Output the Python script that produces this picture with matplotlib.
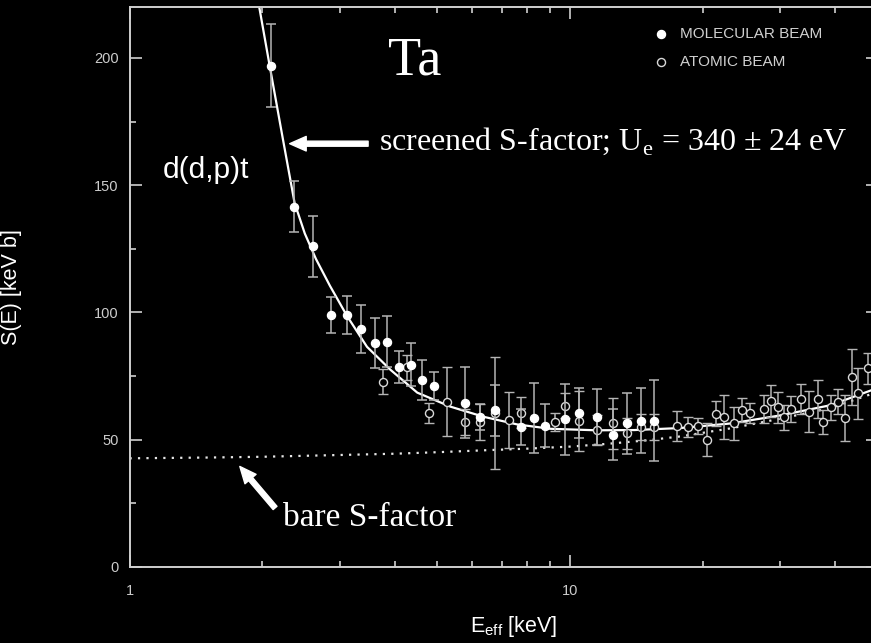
import matplotlib.pyplot as plt
import numpy as np
from matplotlib.ticker import LogLocator, MultipleLocator, NullFormatter

plt.rcParams['font.family'] = ['Liberation Sans', 'DejaVu Sans']
plt.rcParams['mathtext.fontset'] = 'custom'
plt.rcParams['mathtext.rm'] = 'Liberation Serif'
plt.rcParams['mathtext.sf'] = 'Liberation Sans'

# screened S-factor fit (solid) and bare S-factor (dotted)
e_fit = [1.95, 1.97, 2.08, 2.23, 2.37, 2.50, 2.65, 2.85, 3.12, 3.46, 3.91, 4.50,
         5.35, 6.37, 7.59, 9.03, 11.5, 14.0, 17.8, 23.2, 30.1, 39.1, 48.4, 52.0]
s_fit = [226, 220, 197, 168, 143, 131, 121, 110.5, 98.5, 86.5, 77.5, 68.5,
         63.0, 59.0, 56.0, 54.3, 53.7, 53.8, 54.6, 56.4, 59.6, 63.6, 69.5, 71.5]

e_bare = [1.0, 1.5, 2.0, 3.0, 4.0, 5.0, 6.5, 8.0, 10.0, 12.0, 15.0, 17.8,
          23.2, 30.1, 39.1, 48.4, 52.0]
s_bare = [42.7, 43.0, 43.3, 44.0, 44.5, 45.1, 45.9, 46.5, 47.3, 48.3, 49.8, 51.3,
          54.5, 58.3, 62.5, 68.0, 69.8]

# molecular beam (filled)
e_mol = [2.10, 2.36, 2.61, 2.86, 3.11, 3.36, 3.61, 3.85, 4.10, 4.36, 4.61, 4.90,
         5.76, 6.26, 6.77, 7.75, 8.28, 8.75, 9.73, 10.5, 11.5, 12.5, 13.5, 14.5, 15.5]
s_mol = [197, 141.5, 126, 99, 99, 93.5, 88, 88.5, 78.5, 79.5, 73.5, 71,
         64.5, 59, 61.5, 55, 58.5, 55.5, 58, 60.5, 59, 52, 56.5, 57.5, 57.5]
err_mol = [16.4, 10, 12, 7.2, 7.5, 9.3, 10, 10, 6.3, 8.5, 8, 5.5,
           14, 5, 10, 7, 13.7, 8.5, 14, 10, 11, 10, 12, 12.8, 16]

# atomic beam (open)
e_atom = [3.76, 4.27, 4.78, 5.26, 5.76, 6.26, 6.77, 7.26, 7.75, 9.24, 9.73, 10.5,
          11.5, 12.5, 13.5, 14.5, 15.5, 17.5, 18.5, 19.5, 20.5, 21.4, 22.4, 23.5,
          24.5, 25.6, 27.6, 28.6, 29.6, 30.6, 31.7, 33.4, 34.9, 36.5, 37.6, 39.1,
          40.5, 42.1, 43.6, 45.0, 47.4]
s_atom = [72.8, 78.4, 60.4, 65, 57, 57, 60.5, 57.7, 60.6, 57, 63.4, 57.2,
          53.8, 56.4, 52.5, 55, 55, 55.4, 55, 55.4, 50, 60.2, 59, 56.4,
          61.7, 60.4, 62, 65.3, 62.7, 58.8, 62, 66, 61, 66, 57, 62.7,
          65, 58.4, 74.5, 68.2, 78]
err_atom = [5, 5, 4, 13.7, 5, 7, 22, 11, 6, 3.6, 5, 11.8,
            6, 10, 6, 5, 5, 6, 4, 3, 6.5, 5, 8.6, 6.5,
            4.6, 4, 5.5, 6.3, 6, 5, 5, 6, 8, 7.3, 4.6, 5,
            5, 9, 11, 10, 6]

fig = plt.figure(figsize=(8.71, 6.43), dpi=100, facecolor='black')
ax = fig.add_axes([129.5 / 871, 76 / 643, 748.5 / 871, 560 / 643])
ax.set_facecolor('black')

ax.plot(e_fit, s_fit, color='white', lw=1.6, zorder=2)
ax.plot(e_bare, s_bare, color='#e6e6e6', lw=1.6, ls=(0, (1, 2.8)), zorder=2)

ax.errorbar(e_atom, s_atom, yerr=err_atom, fmt='o', ms=5.8, mfc='black',
            mec='#d8d8d8', mew=1.0, ecolor='#b5b5b5', elinewidth=1.1,
            capsize=3.5, capthick=1.1, zorder=3)
ax.errorbar(e_mol, s_mol, yerr=err_mol, fmt='o', ms=5.8, mfc='white',
            mec='white', ecolor='#b5b5b5', elinewidth=1.1,
            capsize=3.5, capthick=1.1, zorder=4)

ax.set_xscale('log')
ax.set_xlim(1, 50)
ax.set_ylim(0, 220)
ax.set_xticks([1, 10])
ax.set_xticklabels(['1', '10'])
ax.xaxis.set_minor_locator(LogLocator(base=10, subs=np.arange(2, 10)))
ax.xaxis.set_minor_formatter(NullFormatter())
ax.yaxis.set_major_locator(MultipleLocator(50))
ax.yaxis.set_minor_locator(MultipleLocator(25))

for sp in ax.spines.values():
    sp.set_color('#cfcfcf')
    sp.set_linewidth(1.4)
ax.tick_params(which='both', direction='in', top=True, right=True,
               colors='#cfcfcf', width=1.2, labelsize=10.5, labelcolor='#cccccc')
ax.tick_params(which='major', length=8.5)
ax.tick_params(which='minor', length=4.5)
ax.tick_params(axis='y', pad=8)
ax.tick_params(axis='x', pad=12)

ax.set_ylabel('S(E) [keV b]', color='white', fontsize=15.5)
ax.yaxis.set_label_coords(-0.1436, 0.5)
ax.set_xlabel(r'E$_\mathsf{eff}$ [keV]', color='white', fontsize=15.5, va='top')
ax.xaxis.set_label_coords(0.5137, -0.084)

# legend
ax.plot([0.710], [0.951], 'o', ms=5.8, mfc='white', mec='white',
        transform=ax.transAxes, clip_on=False)
ax.plot([0.710], [0.902], 'o', ms=5.8, mfc='black', mec='#d8d8d8', mew=1.0,
        transform=ax.transAxes, clip_on=False)
ax.text(0.7355, 0.951, 'MOLECULAR BEAM', transform=ax.transAxes, color='#d0d0d0',
        fontsize=11, va='center', ha='left')
ax.text(0.7355, 0.902, 'ATOMIC BEAM', transform=ax.transAxes, color='#d0d0d0',
        fontsize=11, va='center', ha='left')

# annotations
ax.text(4.43, 193.3, 'Ta', family='Liberation Serif', color='white', fontsize=39,
        ha='center', va='baseline')
ax.text(1.19, 152.7, 'd(d,p)t', color='white', fontsize=21.5, ha='left', va='baseline')
ax.text(3.69, 163.8, r'screened S-factor; U$_\mathrm{e}$ = 340 ± 24 eV',
        family='Liberation Serif', color='white', fontsize=23, ha='left', va='baseline')
ax.annotate('', xy=(2.31, 166.3), xytext=(3.48, 166.3),
            arrowprops=dict(arrowstyle='simple,head_width=0.75,head_length=0.85,tail_width=0.26',
                            color='white', mutation_scale=14, shrinkA=0, shrinkB=0))
ax.text(2.236, 16.1, 'bare S-factor', family='Liberation Serif', color='white',
        fontsize=24, ha='left', va='baseline')
ax.annotate('', xy=(1.78, 39.5), xytext=(2.14, 23.2),
            arrowprops=dict(arrowstyle='simple,head_width=0.75,head_length=0.85,tail_width=0.26',
                            color='white', mutation_scale=14, shrinkA=0, shrinkB=0))

fig.savefig('out.png', dpi=100, facecolor='black')
